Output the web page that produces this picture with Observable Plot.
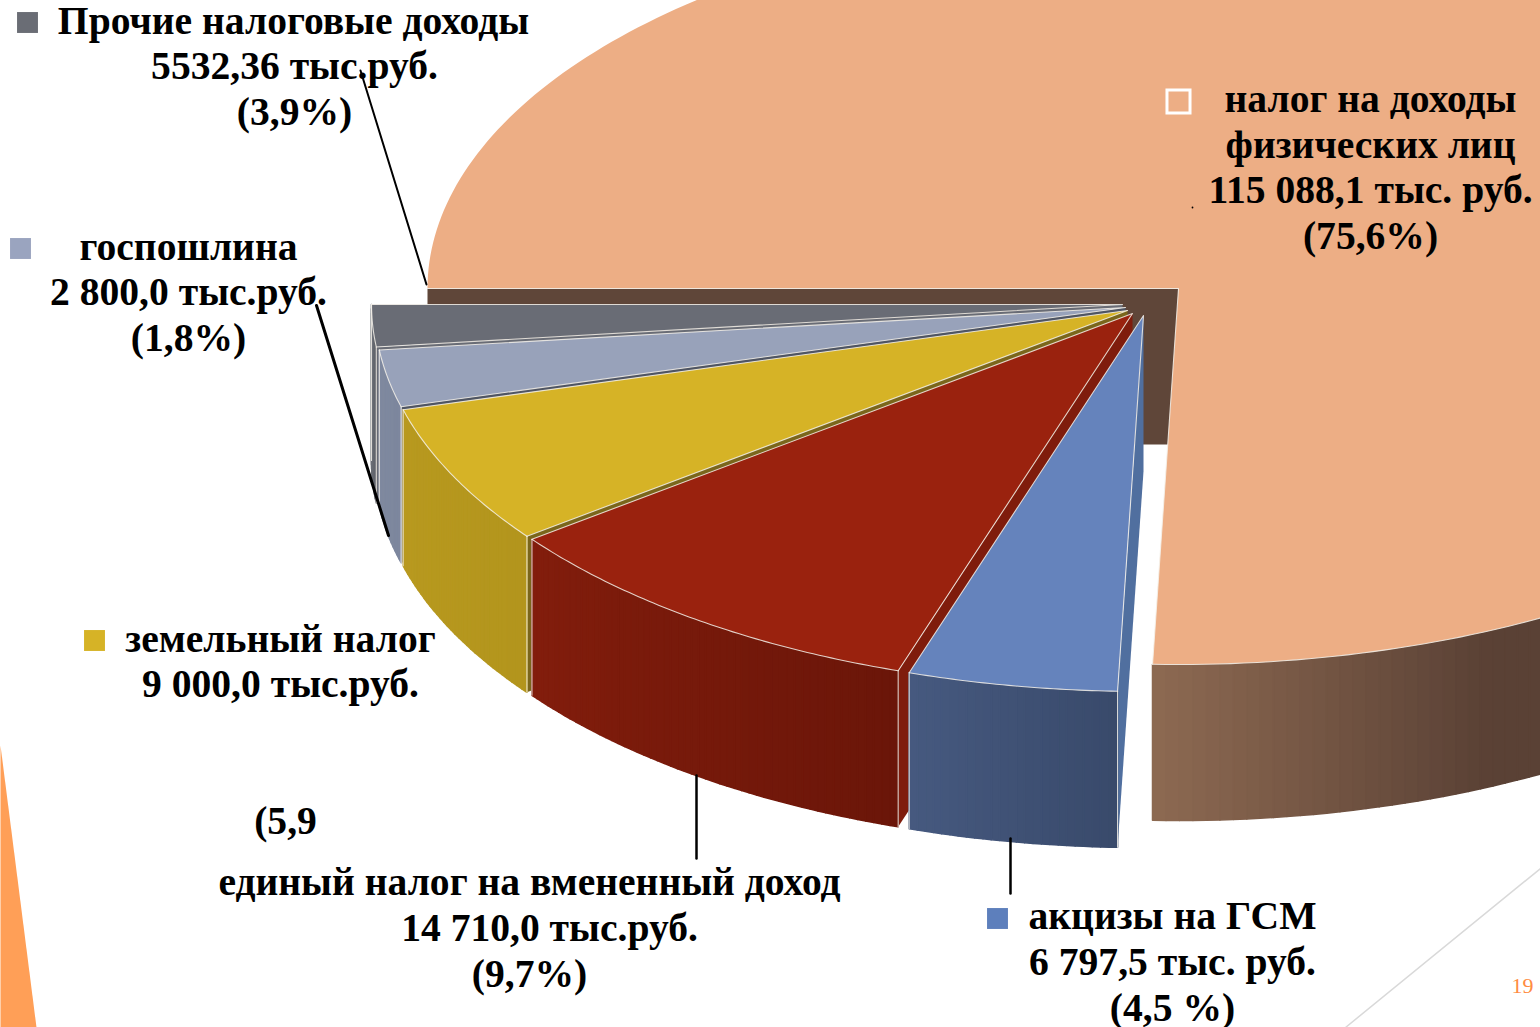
<!DOCTYPE html>
<html lang="ru">
<head>
<meta charset="utf-8">
<style>html,body{margin:0;padding:0;background:#fff;overflow:hidden}svg{display:block}</style>
<script src="https://cdn.jsdelivr.net/npm/d3@7"></script>
<script src="https://cdn.jsdelivr.net/npm/@observablehq/plot@0.6"></script>
</head>
<body>
<div id="chart"></div>
<script>
// ---- data ----
const categories = ["налог на доходы физических лиц","акцизы на ГСМ","единый налог на вмененный доход","земельный налог","госпошлина","Прочие налоговые доходы"];
const drawnShares = [75.55, 4.5, 9.7, 6.0, 2.45, 1.8];
const labelLines = [
  ["налог на доходы","физических лиц","115 088,1 тыс. руб.","(75,6%)"],
  ["акцизы на ГСМ","6 797,5 тыс. руб.","(4,5 %)"],
  ["единый налог на вмененный доход","14 710,0 тыс.руб.","(9,7%)"],
  ["земельный налог","9 000,0 тыс.руб."],
  ["госпошлина","2 800,0 тыс.руб.","(1,8%)"],
  ["Прочие налоговые доходы","5532,36 тыс.руб.","(3,9%)"]
];
const strayLabel = "(5,9";
const pageNumber = "19";

// ---- layout & style (separate from data) ----
const W = 1540, H = 1027, RX = 751, RY = 376, DEPTH = 156;
const styles = [
  {cx:1178, cy:288, top:"#edae85", sideA:"#8d6a52", sideB:"#5a4135", cut:"#5f4639", lx:[1370], ly:[100,146,191,237]},
  {cx:1143, cy:315, top:"#6583bc", sideA:"#46597f", sideB:"#394a6b", cut:"#506f9f", swatch:[997,918], swatchFill:"#5d7fbc", lx:[1172], ly:[917,963,1009]},
  {cx:1132, cy:313, top:"#9a220e", sideA:"#821d0c", sideB:"#6b1609", cut:"#7f1c0c", lx:[529,549,529], ly:[883,929,975]},
  {cx:1127, cy:310, top:"#d6b326", sideA:"#b8991f", sideB:"#b3951d", cut:"#7a661b", swatch:[94,640], swatchFill:"#d6b326", lx:[280], ly:[640,685]},
  {cx:1125, cy:307, top:"#98a2ba", sideA:"#7f899f", sideB:"#7d879e", cut:"#4f5563", swatch:[20,248], swatchFill:"#9aa4bf", lx:[188], ly:[248,293,339]},
  {cx:1122, cy:304, top:"#696c75", sideA:"#6a6d75", sideB:"#5f6269", cut:"#696c75", swatch:[27,22], swatchFill:"#6a6d75", lx:[293,294,294], ly:[22,67,113]}
];
const EDGE = "#f4f1ea";
const rad = d => d * Math.PI / 180;
const total = d3.sum(drawnShares);

// slice sweep, from the left of the pie clockwise through the top
let acc = 180;
const slices = drawnShares.map((s, i) => {
  const a0 = acc; acc += s / total * 360;
  return {i, a0, a1: acc, ...styles[i]};
});
const pt = (s, t) => ({x: s.cx + RX * Math.cos(rad(t)), y: s.cy + RY * Math.sin(rad(t))});
const arc = (s, a, b, step = 1) => {
  const n = Math.max(2, Math.ceil(Math.abs(b - a) / step));
  return d3.range(n + 1).map(k => pt(s, a + (b - a) * k / n));
};
const down = p => ({x: p.x, y: p.y + DEPTH});
const poly = (id, pts, fill) => pts.map(p => ({...p, id, fill}));

function rimQuads(s, t0, t1, n, colorAt) {
  const out = [];
  for (let k = 0; k < n; k++) {
    const A = pt(s, t0 + (t1 - t0) * k / n), B = pt(s, t0 + (t1 - t0) * (k + 1) / n);
    out.push(...poly("rim" + k, [A, B, down(B), down(A)], colorAt((A.x + B.x) / 2, k / (n - 1))));
  }
  return out;
}

function sliceMarks(s) {
  const back = [], rim = [], top = [], edges = [];
  const c = {x: s.cx, y: s.cy};
  const addEdge = (id, pts) => edges.push(...pts.map(p => ({...p, id})));
  const color = d3.interpolateRgb(s.sideA, s.sideB);
  if (s.i === 0) {
    const l = pt(s, s.a0);
    back.push(...poly("back", [l, c, down(c), down(l)], s.cut));
    const from = s.a1 - 360;
    rim.push(...rimQuads(s, from, 20, 70, x => color(Math.min(1, (x - 1150) / 340))));
    top.push(...poly("top", [c, ...arc(s, s.a0, s.a1)], s.top));
    addEdge("e1", [l, c, pt(s, s.a1)]);
    addEdge("e2", arc(s, from, 20));
  } else {
    const t0 = s.a0 - 360, t1 = s.a1 - 360;
    const A0 = pt(s, t0), A1 = pt(s, t1);
    back.push(...poly("cut", [c, A0, down(A0), down(c)], s.cut));
    const n = Math.max(6, Math.ceil((t1 - t0) * 1.5));
    rim.push(...rimQuads(s, t0, t1, n, (x, f) => color(1 - f)));
    top.push(...poly("top", [c, ...arc(s, t0, t1, 0.5)], s.top));
    addEdge("e1", [A1, c, A0]);
    addEdge("e2", arc(s, t0, t1, 0.5));
    addEdge("e3", [A0, down(A0)]);
    addEdge("e4", [A1, down(A1)]);
  }
  return [
    Plot.line(back, {x:"x", y:"y", z:"id", fill:"fill", stroke:"none", curve:"linear-closed"}),
    Plot.line(rim, {x:"x", y:"y", z:"id", fill:"fill", stroke:"fill", strokeWidth:1.6, curve:"linear-closed"}),
    Plot.line(top, {x:"x", y:"y", z:"id", fill:"fill", stroke:"none", curve:"linear-closed"}),
    Plot.line(edges, {x:"x", y:"y", z:"id", stroke:EDGE, strokeWidth:1.1, strokeOpacity:0.85, curve:"linear"})
  ];
}

// big slice first, then the small ones back to front
const drawOrder = [slices[0], ...slices.slice(1).reverse()];

// text rows
const textRows = [];
labelLines.forEach((lines, i) => lines.forEach((text, k) => {
  const st = styles[i];
  textRows.push({text, x: st.lx[k] ?? st.lx[0], y: st.ly[k] - 1.5});
}));
textRows.push({text: strayLabel, x: 285, y: 820.5});

const swatches = slices.filter(s => s.swatchFill).map(s => ({x: s.swatch[0], y: s.swatch[1], fill: s.swatchFill}));

const leaders = [
  [{x:360,y:70},{x:426,y:284}],
  [{x:316,y:305},{x:388,y:535}],
  [{x:696,y:775},{x:696,y:858}],
  [{x:1010,y:838},{x:1010,y:893}]
];
const leaderW = [2, 3, 2.5, 2.5];
const decoTriangle = [{x:0,y:745},{x:36,y:1027},{x:0,y:1027}];
const decoLine = [{x:1345,y:1027},{x:1540,y:868}];

const plot = Plot.plot({
  width: W, height: H,
  margin: 0,
  x: {domain: [0, W], range: [0, W], axis: null},
  y: {domain: [0, H], range: [0, H], axis: null},
  color: {type: "identity"},
  style: {background: "#fff"},
  marks: [
    Plot.line(decoTriangle, {x:"x", y:"y", fill:"#ff9f57", stroke:"none", curve:"linear-closed"}),
    Plot.line(decoLine, {x:"x", y:"y", stroke:"#d9d9d9", strokeWidth:1.5}),
    ...drawOrder.flatMap(sliceMarks),
    ...leaders.map((l, i) => Plot.line(l, {x:"x", y:"y", stroke:"#000", strokeWidth:leaderW[i]})),
    Plot.dot(swatches, {x:"x", y:"y", symbol:"square", r:11.8, fill:"fill", stroke:"none"}),
    Plot.dot([{x:1178,y:101}], {x:"x", y:"y", symbol:"square", r:13, fill:"none", stroke:"#fff", strokeWidth:3}),
    Plot.dot([{x:1192,y:207}], {x:"x", y:"y", r:0.9, fill:"#000"}),
    Plot.text(textRows, {x:"x", y:"y", text:"text", fontFamily:"Liberation Serif", fontWeight:"bold", fontSize:39.6, fill:"#000", textAnchor:"middle", lineAnchor:"middle"}),
    Plot.text([pageNumber], {x:()=>1522, y:()=>985, text:d=>d, fontFamily:"Liberation Serif", fontSize:22, fill:"#ff8c42", textAnchor:"middle", lineAnchor:"middle"})
  ]
});
document.getElementById("chart").append(plot);
</script>
</body>
</html>
